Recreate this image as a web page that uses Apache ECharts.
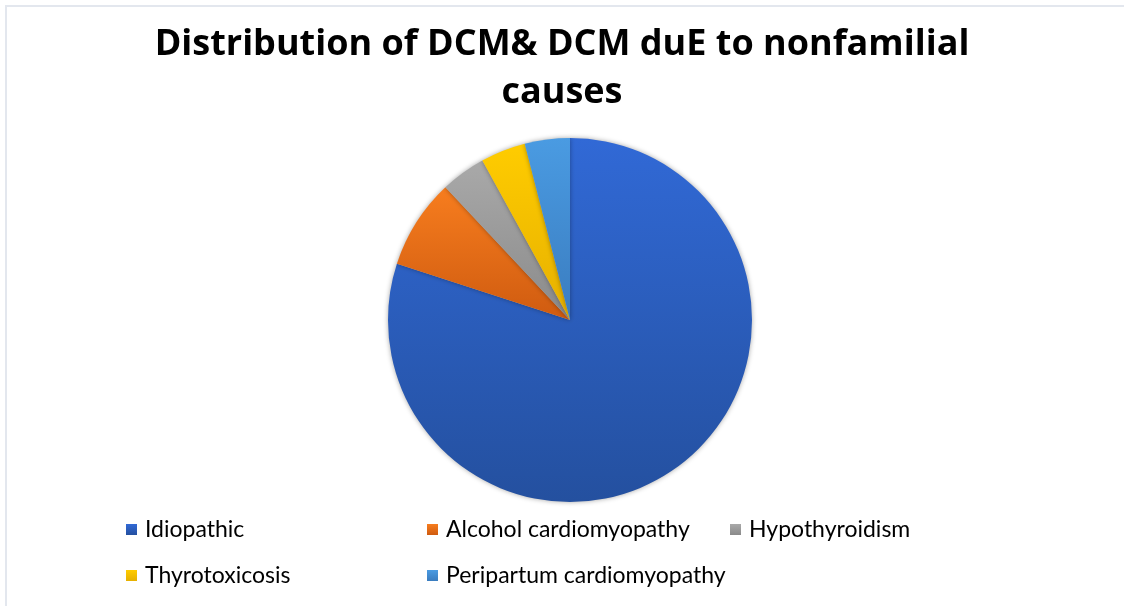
<!DOCTYPE html>
<html>
<head>
<meta charset="utf-8">
<script src="https://cdn.jsdelivr.net/npm/echarts@6/dist/echarts.min.js"></script>
<style>
  html, body { margin: 0; padding: 0; background: #fff; }
  #chart { width: 1124px; height: 606px; }
</style>
</head>
<body>
<div id="chart"></div>
<script>
var causes = ['Idiopathic', 'Alcohol cardiomyopathy', 'Hypothyroidism', 'Thyrotoxicosis', 'Peripartum cardiomyopathy'];
var counts = [20, 2, 1, 1, 1];
// top / bottom colour of each slice gradient
var topColors = ['#3169d6', '#f77d1e', '#a9a9a9', '#ffcc00', '#4a9be2'];
var bottomColors = ['#24509f', '#cf5b10', '#8a8a8a', '#e6b000', '#3a7cbf'];

var chart = echarts.init(document.getElementById('chart'));

function grad(i) {
    return new echarts.graphic.LinearGradient(0, 0, 0, 1, [
        { offset: 0, color: topColors[i] },
        { offset: 1, color: bottomColors[i] }
    ]);
}

var pieData = causes.map(function (c, i) {
    return { name: c, value: counts[i], itemStyle: { color: grad(i) } };
});

// legend laid out in a 3-column grid like the original
var legendPos = [[121, 513], [422, 513], [725, 513], [121, 559], [422, 559]];
var legends = causes.map(function (c, i) {
    return {
        data: [c],
        left: legendPos[i][0],
        top: legendPos[i][1],
        itemWidth: 11,
        itemHeight: 11,
        icon: 'rect',
        selectedMode: false,
        textStyle: { fontSize: 23, color: '#000', fontFamily: 'Lato', padding: [0, 0, 0, 3] }
    };
});

var option = {
    backgroundColor: '#fff',
    color: topColors,
    title: {
        text: 'Distribution of DCM& DCM duE to nonfamilial\ncauses',
        left: 'center',
        top: 16,
        textStyle: {
            fontSize: 36,
            fontWeight: 'bold',
            fontFamily: 'Open Sans',
            color: '#000',
            lineHeight: 48
        }
    },
    legend: legends,
    graphic: [{
        type: 'rect',
        shape: { x: 6, y: 6, width: 1200, height: 700 },
        style: { fill: 'none', stroke: '#e3e7ee', lineWidth: 2 },
        silent: true
    }],
    series: [{
        type: 'pie',
        center: [570, 320],
        radius: 182,
        startAngle: 90,
        clockwise: true,
        label: { show: false },
        labelLine: { show: false },
        animation: false,
        itemStyle: {
            shadowBlur: 5,
            shadowColor: 'rgba(0,0,0,0.35)',
            borderWidth: 0
        },
        data: pieData
    }]
};

chart.setOption(option);
window.onresize = function () {
    chart.resize();
};
</script>
</body>
</html>
